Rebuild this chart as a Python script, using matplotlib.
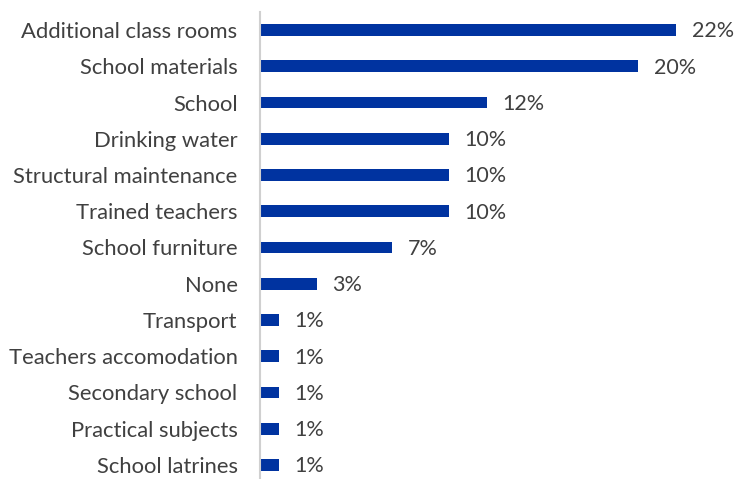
import matplotlib.pyplot as plt

categories = ["Additional class rooms", "School materials", "School",
              "Drinking water", "Structural maintenance", "Trained teachers",
              "School furniture", "None", "Transport", "Teachers accomodation",
              "Secondary school", "Practical subjects", "School latrines"]
values = [22, 20, 12, 10, 10, 10, 7, 3, 1, 1, 1, 1, 1]

bar_color = "#0033A0"
text_color = "#404040"

fig = plt.figure(figsize=(7.34, 4.79), dpi=100)
ax = fig.add_axes([0.354, -0.0086, 0.626, 0.9838])

pos = list(range(len(categories)))
ax.barh(pos, values, height=0.32, color=bar_color)

for y, v in zip(pos, values):
    ax.annotate(f"{v}%", (v, y), xytext=(11, -1), textcoords="offset points",
                va="center", ha="left", fontsize=15.5, color=text_color,
                family="Lato")

ax.set_ylim(len(categories) - 0.5, -0.5)
ax.set_xlim(0, 24.27)
ax.set_yticks(pos)
ax.set_yticklabels(categories, fontsize=15.8, color=text_color, family="Lato")
ax.tick_params(axis="y", length=0, pad=16)
ax.set_xticks([])

for side in ["top", "right", "bottom"]:
    ax.spines[side].set_visible(False)
ax.spines["left"].set_color("#d0d0d0")
ax.spines["left"].set_linewidth(1.5)

fig.savefig("out.png", dpi=100)
